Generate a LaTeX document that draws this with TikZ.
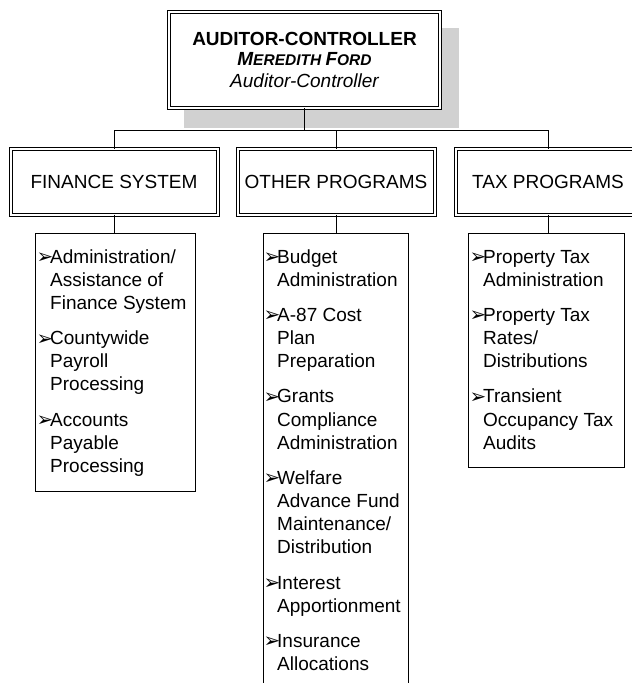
\documentclass[tikz,border=0pt]{standalone}
\usepackage{fontspec}
\setmainfont{Liberation Sans}
\newfontfamily\dejavu{DejaVu Sans}
\usetikzlibrary{backgrounds}
\newcommand\bul{\makebox[13pt][l]{\hspace{-0.5pt}\dejavu\fontsize{20}{20}\selectfont\raisebox{-0.5pt}{➢}}}
\begin{document}
\begin{tikzpicture}[x=1pt,y=-1pt,
  dbl/.style={draw, double, double distance=2pt, line width=1pt, fill=white, inner sep=0pt, outer sep=0pt},
  topbox/.style={dbl, double distance=2.5pt, line width=1.1pt, minimum width=271pt, minimum height=96pt},
  hdr/.style={dbl, minimum height=66pt, font=\fontsize{19}{22}\selectfont},
  subbox/.style={draw, line width=1pt, anchor=north west, inner sep=0pt, outer sep=0pt},
  subtext/.style={anchor=base west, inner sep=0pt, font=\fontsize{19}{23.1}\selectfont},
  toptext/.style={anchor=base, inner sep=0pt},
  conn/.style={draw, line width=1pt},
  shadowfill/.style={fill=black!18}]
\clip (0,0) rectangle (632,683);

% top box
\node[topbox] (top) at (304.5,60) {};
\begin{scope}[on background layer]
  \fill[shadowfill] ([xshift=15pt,yshift=-16pt]top.north west) rectangle ([xshift=19pt,yshift=-20pt]top.south east);
\end{scope}
\node[toptext, font=\bfseries\fontsize{19}{22}\selectfont] (t1) at (304.5,45) {AUDITOR-CONTROLLER};
\node[toptext, font=\bfseries\itshape] (t2) at (304.5,65) {\fontsize{19}{22}\selectfont M\fontsize{15.5}{18}\selectfont EREDITH \fontsize{19}{22}\selectfont F\fontsize{15.5}{18}\selectfont ORD};
\node[toptext, font=\itshape\fontsize{19}{22}\selectfont] (t3) at (304.5,87) {Auditor-Controller};

% header boxes
\node[hdr, minimum width=207pt] (fin) at (114,181.5) {FINANCE SYSTEM};
\node[hdr, minimum width=197pt] (oth) at (336,181.5) {OTHER PROGRAMS};
\node[hdr, minimum width=185pt] (tax) at (548,181.5) {TAX PROGRAMS};

% connectors
\coordinate (bus) at (0,130);
\draw[conn] (top.south) -- (top.south |- bus);
\draw[conn] (fin.north) -- (fin.north |- bus) -- (tax.north |- bus) -- (tax.north);
\draw[conn] (oth.north) -- (oth.north |- bus);

% sub boxes
\node[subbox, minimum width=160pt, minimum height=258pt] (finsub) at (35,233) {};
\node[subbox, minimum width=145pt, minimum height=480pt] (othsub) at (263,233) {};
\node[subbox, minimum width=156pt, minimum height=234pt] (taxsub) at (468,233) {};

\draw[conn] (fin.south) -- (fin.south |- finsub.north);
\draw[conn] (oth.south) -- (oth.south |- othsub.north);
\draw[conn] (tax.south) -- (tax.south |- taxsub.north);

% sub box texts
\node[subtext] (fintxt) at (37,263) {\begin{tabular}[t]{@{}l@{}l@{}}
\bul & Administration/\\
 & Assistance of\\
 & Finance System\\[12.2pt]
\bul & Countywide\\
 & Payroll\\
 & Processing\\[12.2pt]
\bul & Accounts\\
 & Payable\\
 & Processing
\end{tabular}};

\node[subtext] (othtxt) at (264,263) {\begin{tabular}[t]{@{}l@{}l@{}}
\bul & Budget\\
 & Administration\\[12.2pt]
\bul & A-87 Cost\\
 & Plan\\
 & Preparation\\[12.2pt]
\bul & Grants\\
 & Compliance\\
 & Administration\\[12.2pt]
\bul & Welfare\\
 & Advance Fund\\
 & Maintenance/\\
 & Distribution\\[12.2pt]
\bul & Interest\\
 & Apportionment\\[12.2pt]
\bul & Insurance\\
 & Allocations
\end{tabular}};

\node[subtext] (taxtxt) at (470,263) {\begin{tabular}[t]{@{}l@{}l@{}}
\bul & Property Tax\\
 & Administration\\[12.2pt]
\bul & Property Tax\\
 & Rates/\\
 & Distributions\\[12.2pt]
\bul & Transient\\
 & Occupancy Tax\\
 & Audits
\end{tabular}};
\end{tikzpicture}
\end{document}
